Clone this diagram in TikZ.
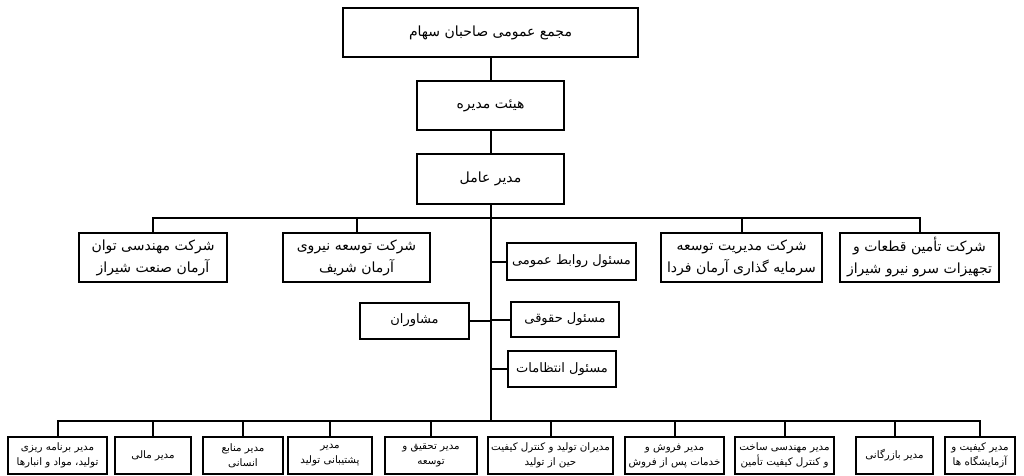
\documentclass[tikz,border=0pt]{standalone}
\usepackage{fontspec}
\newfontfamily\arabicfont[Script=Arabic]{DejaVu Sans}
\TeXXeTstate=1
\newcommand{\fa}[1]{{\arabicfont\beginR #1\endR}}
\begin{document}
\begin{tikzpicture}[x=1pt,y=-1pt,
  box/.style={draw, line width=2pt, inner sep=0pt, align=center, font=\fontsize{14}{22}\selectfont},
  bigbox/.style={box, font=\fontsize{14}{22}\selectfont},
  sidebox/.style={box, font=\fontsize{13}{18}\selectfont},
  botbox/.style={box, font=\fontsize{10.3}{15}\selectfont},
  conn/.style={line width=2pt}]
\useasboundingbox (0,0) rectangle (1024,475);
% top chain
\node[bigbox, minimum width=295pt, minimum height=49pt] (gm) at (490.5,32.5) {\fa{مجمع عمومی صاحبان سهام}};
\node[bigbox, minimum width=147pt, minimum height=49pt] (board) at (490.5,105.5) {\fa{هیئت مدیره}};
\node[bigbox, minimum width=147pt, minimum height=50pt] (ceo) at (490.5,179) {\fa{مدیر عامل}};
% companies
\node[box, minimum width=148pt, minimum height=49pt] (c1) at (153,257.5) {\fa{شرکت مهندسی توان}\\\fa{آرمان صنعت شیراز}};
\node[box, minimum width=147pt, minimum height=49pt] (c2) at (356.5,257.5) {\fa{شرکت توسعه نیروی}\\\fa{آرمان شریف}};
\node[box, minimum width=161pt, minimum height=49pt] (c3) at (741.5,257.5) {\fa{شرکت مدیریت توسعه}\\\fa{سرمایه گذاری آرمان فردا}};
\node[box, minimum width=159pt, minimum height=49pt] (c4) at (919.5,257.5) {\fa{شرکت تأمین قطعات و}\\\fa{تجهیزات سرو نیرو شیراز}};
% side boxes
\node[sidebox, minimum width=129pt, minimum height=37pt] (pr) at (571.5,261.5) {\fa{مسئول روابط عمومی}};
\node[sidebox, minimum width=108pt, minimum height=35pt] (legal) at (565,319.5) {\fa{مسئول حقوقی}};
\node[sidebox, minimum width=109pt, minimum height=36pt] (cons) at (414.5,320.5) {\fa{مشاوران}};
\node[sidebox, minimum width=108pt, minimum height=36pt] (sec) at (562,369) {\fa{مسئول انتظامات}};
% bottom row
\node[botbox, minimum width=99pt, minimum height=37pt] (b1) at (57.5,455.5) {\fa{مدیر برنامه ریزی}\\\fa{تولید، مواد و انبارها}};
\node[botbox, minimum width=76pt, minimum height=37pt] (b2) at (153,455.5) {\fa{مدیر مالی}};
\node[botbox, minimum width=80pt, minimum height=37pt] (b3) at (243,455.5) {\fa{مدیر منابع}\\\fa{انسانی}};
\node[botbox, minimum width=84pt, minimum height=37pt] (b4) at (330,455.5) {\fa{مدیر}\\\fa{پشتیبانی تولید}};
\node[botbox, minimum width=92pt, minimum height=37pt] (b5) at (431,455.5) {\fa{مدیر تحقیق و}\\\fa{توسعه}};
\node[botbox, minimum width=125pt, minimum height=37pt] (b6) at (550.5,455.5) {\fa{مدیران تولید و کنترل کیفیت}\\\fa{حین از تولید}};
\node[botbox, minimum width=99pt, minimum height=37pt] (b7) at (674.5,455.5) {\fa{مدیر فروش و}\\\fa{خدمات پس از فروش}};
\node[botbox, minimum width=99pt, minimum height=37pt] (b8) at (784.5,455.5) {\fa{مدیر مهندسی ساخت}\\\fa{و کنترل کیفیت تأمین}};
\node[botbox, minimum width=77pt, minimum height=37pt] (b9) at (894.5,455.5) {\fa{مدیر بازرگانی}};
\node[botbox, minimum width=70pt, minimum height=37pt] (b10) at (980,455.5) {\fa{مدیر کیفیت و}\\\fa{آزمایشگاه ها}};
% coordinates
\coordinate (busC) at (490.5,218);
\coordinate (busB) at (490.5,421);
% connectors
\draw[conn] (gm.south) -- (board.north);
\draw[conn] (board.south) -- (ceo.north);
\draw[conn] (ceo.south) -- (busB);
\draw[conn] (c1.north) -- (c1.north |- busC) -- (c4.north |- busC) -- (c4.north);
\draw[conn] (c2.north) -- (c2.north |- busC);
\draw[conn] (c3.north) -- (c3.north |- busC);
\draw[conn] (pr.west) -- (pr.west -| busC);
\draw[conn] (legal.west) -- (legal.west -| busC);
\draw[conn] (cons.east) -- (cons.east -| busC);
\draw[conn] (sec.west) -- (sec.west -| busC);
\draw[conn] (b1.north) -- (b1.north |- busB) -- (b10.north |- busB) -- (b10.north);
\foreach \n in {b2,b3,b4,b5,b6,b7,b8,b9}
  \draw[conn] (\n.north) -- (\n.north |- busB);
\end{tikzpicture}
\end{document}
